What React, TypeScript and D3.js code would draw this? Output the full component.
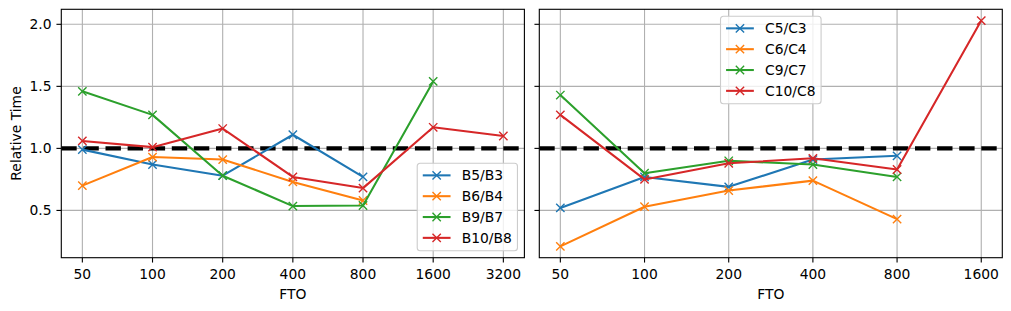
import * as d3 from 'd3'
import React from 'react'

// FTO categories for each panel
const leftFto = ['50', '100', '200', '400', '800', '1600', '3200'];
const rightFto = ['50', '100', '200', '400', '800', '1600'];

// relative time values (ratio)
const b5b3 = [0.99, 0.87, 0.78, 1.11, 0.77];
const b6b4 = [0.70, 0.93, 0.91, 0.73, 0.58];
const b9b7 = [1.46, 1.27, 0.78, 0.535, 0.54, 1.54];
const b10b8 = [1.06, 1.01, 1.16, 0.77, 0.68, 1.17, 1.10];

const c5c3 = [0.52, 0.77, 0.69, 0.91, 0.94];
const c6c4 = [0.21, 0.53, 0.66, 0.74, 0.43];
const c9c7 = [1.43, 0.80, 0.90, 0.87, 0.77];
const c10c8 = [1.27, 0.75, 0.88, 0.92, 0.83, 2.03];

const yTicks = [0.5, 1.0, 1.5, 2.0];
const colors = ['#1f77b4', '#ff7f0e', '#2ca02c', '#d62728'];

const leftSeries = [
    { name: 'B5/B3', values: b5b3 },
    { name: 'B6/B4', values: b6b4 },
    { name: 'B9/B7', values: b9b7 },
    { name: 'B10/B8', values: b10b8 },
];
const rightSeries = [
    { name: 'C5/C3', values: c5c3 },
    { name: 'C6/C4', values: c6c4 },
    { name: 'C9/C7', values: c9c7 },
    { name: 'C10/C8', values: c10c8 },
];

const W = 1011;
const H = 311;
const FONT = 13.89;
const top = 9.3;
const bottom = 257.7;

// shared y (sharey): data extent + 5% margins like matplotlib
const allVals = [...leftSeries, ...rightSeries].flatMap(s => s.values);
const yMin = d3.min(allVals) as number;
const yMax = d3.max(allVals) as number;
const yPad = (yMax - yMin) * 0.05;
const yScale = d3.scaleLinear().domain([yMin - yPad, yMax + yPad]).range([bottom, top]);

const textWidth = (s: string) => {
    const w: Record<string, number> = { B: 0.686, C: 0.698, '/': 0.337 };
    return s.split('').reduce((a, c) => a + (w[c] ?? 0.636), 0) * FONT;
};

const Legend = ({ series, x, y }: { series: typeof leftSeries, x: number, y: number }) => {
    const em = FONT;
    const width = em * 0.4 + em * 2 + em * 0.8 + (d3.max(series, s => textWidth(s.name)) as number) + em * 0.4;
    const height = em * 0.4 * 2 + series.length * em + (series.length - 1) * em * 0.5;
    return (
        <g transform={`translate(${x - width / 2},${y})`}>
            <rect x={0} y={0} width={width} height={height} rx={3} fill='white' fillOpacity={0.8} stroke='#cccccc' strokeWidth={1.1} />
            {series.map((s, i) => {
                const cy = em * 0.4 + em / 2 + i * em * 1.5 - 0.4;
                const hx = em * 0.4;
                const mx = hx + em;
                return (
                    <g key={s.name}>
                        <line x1={hx} x2={hx + em * 2} y1={cy} y2={cy} stroke={colors[i]} strokeWidth={2.08} />
                        <path d={`M${mx - 4.17},${cy - 4.17}L${mx + 4.17},${cy + 4.17}M${mx - 4.17},${cy + 4.17}L${mx + 4.17},${cy - 4.17}`} stroke={colors[i]} strokeWidth={1.39} />
                        <text x={hx + em * 2.8} y={cy + 5} fontSize={FONT}>{s.name}</text>
                    </g>
                );
            })}
        </g>
    );
};

const Panel = ({ cats, series, x0, x1, showY, legendPos }: { cats: string[], series: typeof leftSeries, x0: number, x1: number, showY: boolean, legendPos: 'lowerright' | 'uppercenter' }) => {
    const xScale = d3.scalePoint<string>().domain(cats).range([x0, x1]).padding((cats.length - 1) * 0.05);
    const line = d3.line<number>().x((_, i) => xScale(cats[i]) as number).y(d => yScale(d));
    const clipId = `clip-${x0}`;
    const em = FONT;
    const lw = em * 0.4 * 2 + 4 * em + 3 * em * 0.5;
    const legW = em * 3.6 + (d3.max(series, s => textWidth(s.name)) as number);
    const legend = legendPos === 'lowerright'
        ? { x: x1 - 6.94 - legW / 2, y: bottom - 6.94 - lw }
        : { x: (x0 + x1) / 2, y: top + 6.94 };
    return (
        <g>
            <defs>
                <clipPath id={clipId}><rect x={x0} y={top} width={x1 - x0} height={bottom - top} /></clipPath>
            </defs>
            {/* grid */}
            {cats.map(c => (
                <line key={c} x1={xScale(c)} x2={xScale(c)} y1={top} y2={bottom} stroke='#b0b0b0' strokeWidth={1.11} />
            ))}
            {yTicks.map(t => (
                <line key={t} x1={x0} x2={x1} y1={yScale(t)} y2={yScale(t)} stroke='#b0b0b0' strokeWidth={1.11} />
            ))}
            <g clipPath={`url(#${clipId})`}>
                <line x1={x0} x2={x1} y1={yScale(1)} y2={yScale(1)} stroke='black' strokeWidth={4.17} strokeDasharray='15.4,6.7' />
                {series.map((s, i) => (
                    <g key={s.name}>
                        <path d={line(s.values) ?? ''} fill='none' stroke={colors[i]} strokeWidth={2.08} strokeLinejoin='round' />
                        {s.values.map((v, j) => {
                            const px = xScale(cats[j]) as number;
                            const py = yScale(v);
                            return <path key={j} d={`M${px - 4.17},${py - 4.17}L${px + 4.17},${py + 4.17}M${px - 4.17},${py + 4.17}L${px + 4.17},${py - 4.17}`} stroke={colors[i]} strokeWidth={1.39} />;
                        })}
                    </g>
                ))}
            </g>
            {/* frame */}
            <rect x={x0} y={top} width={x1 - x0} height={bottom - top} fill='none' stroke='black' strokeWidth={1.11} />
            {/* x ticks */}
            {cats.map(c => (
                <g key={c} transform={`translate(${xScale(c)},0)`}>
                    <line y1={bottom} y2={bottom + 4.86} stroke='black' strokeWidth={1.11} />
                    <text y={279.3} textAnchor='middle' fontSize={FONT}>{c}</text>
                </g>
            ))}
            {/* y ticks */}
            {yTicks.map(t => (
                <g key={t} transform={`translate(0,${yScale(t)})`}>
                    <line x1={x0 - 4.86} x2={x0} stroke='black' strokeWidth={1.11} />
                    {showY && <text x={x0 - 9.7} y={5} textAnchor='end' fontSize={FONT}>{t.toFixed(1)}</text>}
                </g>
            ))}
            <text x={(x0 + x1) / 2} y={299} textAnchor='middle' fontSize={FONT}>FTO</text>
            {showY && (
                <text transform={`translate(21,${(top + bottom) / 2}) rotate(-90)`} textAnchor='middle' fontSize={FONT}>Relative Time</text>
            )}
            <Legend series={series} x={legend.x} y={legend.y} />
        </g>
    );
};

const App = () => {
    return (
        <svg width={W} height={H} style={{ position: 'absolute', left: 0, top: 0, fontFamily: 'DejaVu Sans', background: 'white' }}>
            <rect width={W} height={H} fill='white' />
            <Panel cats={leftFto} series={leftSeries} x0={61.3} x1={524.4} showY={true} legendPos='lowerright' />
            <Panel cats={rightFto} series={rightSeries} x0={539.3} x1={1002.3} showY={false} legendPos='uppercenter' />
        </svg>
    );
};
export default App;
